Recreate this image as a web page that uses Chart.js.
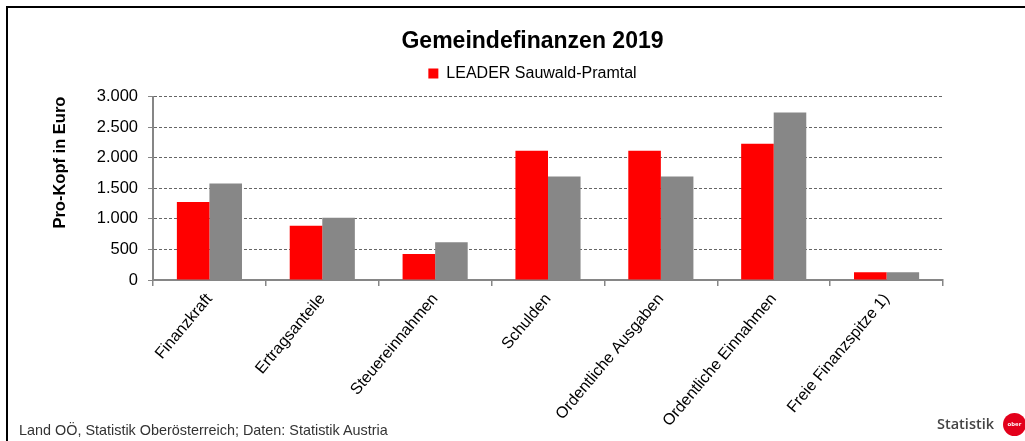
<!DOCTYPE html>
<html>
<head>
<meta charset="utf-8">
<script src="https://cdn.jsdelivr.net/npm/chart.js@4.4.1/dist/chart.umd.min.js"></script>
<style>
    html, body { margin: 0; padding: 0; background: #fff; }
    body { width: 1025px; height: 441px; position: relative; overflow: hidden; font-family: "Liberation Sans", Arial, sans-serif; }
    .frame { position: absolute; left: 6px; top: 6px; width: 1100px; height: 500px; border-left: 2px solid #000; border-top: 2px solid #000; }
    .wrap { position: absolute; left: 0; top: 0; width: 1025px; height: 441px; }
    .source { position: absolute; left: 19px; top: 422px; font-size: 14.4px; color: #333; white-space: nowrap; }
    .logo { position: absolute; left: 937px; top: 414px; font-family: "Open Sans", sans-serif; font-weight: 600; font-size: 14.5px; color: #444; }
    .logo-dot { position: absolute; left: 1003px; top: 413px; width: 23px; height: 23px; border-radius: 50%; background: #e3001b;
                color: #fff; font-size: 6px; font-weight: bold; line-height: 23px; text-align: center; font-family: "Open Sans", sans-serif; }
</style>
</head>
<body>
<div class="frame"></div>
<div class="wrap"><canvas id="chart" width="1025" height="441"></canvas></div>
<div class="source">Land OÖ, Statistik Oberösterreich; Daten: Statistik Austria</div>
<div class="logo">Statistik</div>
<div class="logo-dot">ober</div>
<script>
const categories = ['Finanzkraft', 'Ertragsanteile', 'Steuereinnahmen', 'Schulden',
    'Ordentliche Ausgaben', 'Ordentliche Einnahmen', 'Freie Finanzspitze 1)'];
const leaderValues = [1275, 887, 425, 2113, 2113, 2227, 125];
const landValues   = [1580, 1018, 616, 1694, 1694, 2740, 125];
const yTicks = [0, 500, 1000, 1500, 2000, 2500, 3000];

const FONT = '"Liberation Sans", Arial, sans-serif';
const AXIS_GREY = '#868686';

// small empty box between legend and plot area
const legendGap = {
    id: 'legendGap',
    beforeInit(chart) {
        Chart.layouts.addBox(chart, {
            position: 'top',
            weight: 500,
            fullSize: true,
            options: {},
            isHorizontal: () => true,
            getPadding: () => ({ top: 0, left: 0, right: 0, bottom: 0 }),
            update(maxWidth) { this.width = maxWidth; this.height = 5; },
            draw() {},
        });
    },
};

new Chart(document.getElementById('chart').getContext('2d'), {
    type: 'bar',
    data: {
        labels: categories,
        datasets: [
            { label: 'LEADER Sauwald-Pramtal', data: leaderValues, backgroundColor: '#ff0000' },
            { label: 'Oberösterreich',         data: landValues,   backgroundColor: '#878787' },
        ],
    },
    plugins: [legendGap],
    options: {
        responsive: false,
        animation: false,
        datasets: { bar: { categoryPercentage: 0.577, barPercentage: 1.0 } },
        layout: { padding: { left: 40, right: 0, top: 28, bottom: 0 } },
        plugins: {
            title: {
                display: true,
                text: 'Gemeindefinanzen 2019',
                color: '#000',
                font: { family: FONT, size: 23, weight: 'bold' },
                padding: { top: 0, bottom: 4 },
            },
            legend: {
                display: true,
                labels: {
                    filter: item => item.datasetIndex === 0,
                    boxWidth: 10,
                    boxHeight: 10,
                    padding: 6,
                    color: '#000',
                    font: { family: FONT, size: 16 },
                },
            },
            tooltip: { enabled: false },
        },
        scales: {
            x: {
                grid: {
                    drawOnChartArea: false,
                    drawTicks: true,
                    tickLength: 6,
                    color: AXIS_GREY,
                    lineWidth: 1.5,
                },
                border: { color: AXIS_GREY, width: 2 },
                ticks: {
                    minRotation: 50,
                    maxRotation: 50,
                    color: '#000',
                    font: { family: FONT, size: 16 },
                    padding: 4,
                },
                afterFit: scale => { scale.height = 161; },
            },
            y: {
                min: 0,
                max: 3000,
                afterBuildTicks: scale => { scale.ticks = yTicks.map(v => ({ value: v })); },
                grid: {
                    color: '#666',
                    lineWidth: 1,
                    tickLength: 5,
                    tickColor: AXIS_GREY,
                    tickBorderDash: [1, 0],
                    drawTicks: true,
                },
                border: { display: true, color: AXIS_GREY, width: 2, dash: [3, 2] },
                ticks: {
                    color: '#000',
                    font: { family: FONT, size: 16.5 },
                    padding: 10,
                    callback: v => v.toLocaleString('de-DE'),
                },
                title: {
                    display: true,
                    text: 'Pro-Kopf in Euro',
                    color: '#000',
                    align: 'end',
                    font: { family: FONT, size: 16.5, weight: 'bold' },
                    padding: { top: 11, bottom: 0 },
                },
                afterFit: scale => { scale.width = 113; },
            },
            yRight: {
                position: 'right',
                display: true,
                grid: { display: false },
                border: { display: false },
                ticks: { display: false },
                afterFit: scale => { scale.width = 82; },
            },
        },
    },
});
</script>
</body>
</html>
